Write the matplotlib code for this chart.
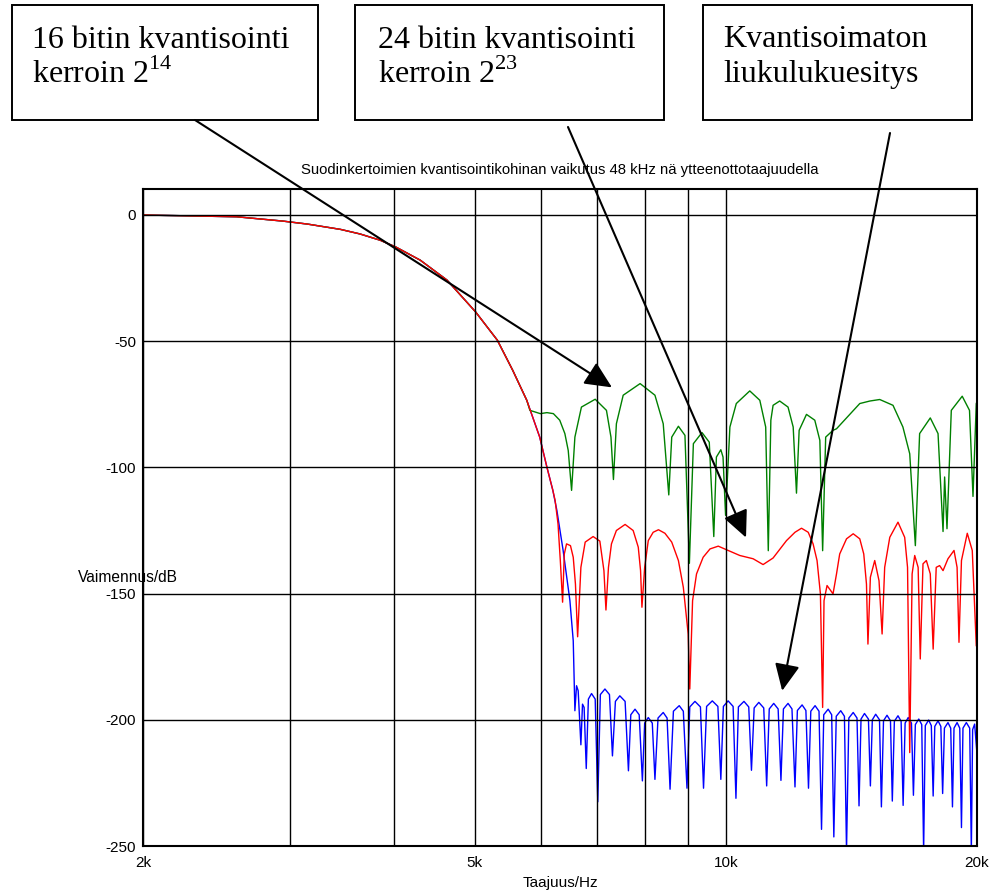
import matplotlib.pyplot as plt
import numpy as np
from matplotlib.patches import Rectangle
from matplotlib.ticker import NullFormatter

plt.rcParams["font.family"] = ["Liberation Sans", "DejaVu Sans"]
plt.rcParams["mathtext.fontset"] = "custom"
plt.rcParams["mathtext.rm"] = "Liberation Serif"

# Common passband of all three filters (kHz, dB)
passband_khz = [2.00, 2.23, 2.59, 2.79, 2.94, 3.15, 3.45, 3.64, 3.85, 4.02,
                4.30, 4.63, 5.01, 5.32, 5.55, 5.77]
passband_db = [0.0, -0.3, -0.7, -1.7, -2.4, -3.6, -5.7, -7.5, -10.0, -12.7,
               -17.9, -25.8, -38.4, -49.6, -61.5, -73.4]

# 16-bit coefficients, scale 2^14
green_khz = [5.82, 5.99, 6.10, 6.21, 6.32, 6.41, 6.47, 6.53,
             6.59, 6.71, 6.97, 7.19, 7.28, 7.33,
             7.39, 7.53, 7.89, 8.22, 8.41, 8.54,
             8.61, 8.77, 8.93, 9.04,
             9.14, 9.36, 9.55, 9.67,
             9.74, 9.86, 9.92, 9.99,
             10.11, 10.29, 10.68, 10.98, 11.16, 11.24,
             11.32, 11.39, 11.60, 11.87, 12.04, 12.15,
             12.24, 12.49, 12.78, 12.96, 13.06,
             13.17, 13.44, 13.57, 14.47, 14.88, 15.29, 15.86, 16.30, 16.61, 16.87,
             17.07, 17.58, 17.96, 18.21, 18.29, 18.41,
             18.63, 19.20, 19.59, 19.78, 19.96, 20.0]
green_db = [-77.4, -78.7, -78.3, -78.7, -81.3, -86.6, -93.3, -109.1,
            -88.0, -76.1, -73.0, -77.4, -88.0, -104.8,
            -82.7, -71.4, -66.8, -71.4, -82.7, -110.9,
            -88.0, -83.7, -87.3, -138.0,
            -90.6, -86.2, -90.0, -127.4,
            -95.9, -93.0, -95.9, -119.0,
            -84.0, -74.7, -69.7, -73.4, -84.0, -133.0,
            -81.3, -75.4, -73.7, -76.1, -84.0, -110.2,
            -85.3, -79.0, -81.3, -89.3, -133.0,
            -88.0, -85.3, -84.7, -74.7, -73.7, -73.1, -75.4, -84.0, -94.6, -131.0,
            -86.6, -80.4, -86.6, -125.4, -103.8, -124.3,
            -77.4, -71.8, -77.4, -111.5, -74.7, -74.0]

# 24-bit coefficients, scale 2^23
red_khz = [5.98, 6.10, 6.20, 6.24, 6.29, 6.33, 6.37, 6.40, 6.44, 6.51, 6.56, 6.60, 6.64,
           6.70, 6.78, 6.93, 7.06, 7.14, 7.18,
           7.23, 7.29, 7.39, 7.57, 7.74, 7.85, 7.90, 7.93,
           7.99, 8.07, 8.18, 8.30, 8.45, 8.61, 8.77, 8.89, 9.01, 9.05,
           9.12, 9.22, 9.39, 9.57, 9.79, 10.06, 10.39, 10.78, 11.08, 11.39,
           11.82, 12.10, 12.32, 12.55, 12.72, 12.86, 12.98, 13.06,
           13.11, 13.22, 13.34, 13.44, 13.57, 13.69, 13.95, 14.21, 14.47, 14.63, 14.74, 14.80,
           14.90, 15.08, 15.26, 15.39, 15.50, 15.72, 16.08, 16.38, 16.51, 16.61,
           16.72, 16.84, 17.00, 17.10, 17.23, 17.39, 17.58, 17.72,
           17.87, 18.04, 18.21, 18.46, 18.77, 18.93, 19.03, 19.16, 19.47, 19.74, 19.96]
red_db = [-88.0, -99.9, -109.0, -113.1, -122.4, -136.9, -153.4, -134.3, -130.3, -131.0, -135.6, -146.2, -167.1,
          -139.6, -129.6, -127.4, -129.2, -140.9, -156.5,
          -139.6, -130.3, -125.0, -122.6, -125.0, -131.6, -140.9, -155.4,
          -139.6, -129.0, -125.7, -124.7, -126.1, -129.6, -136.9, -147.5, -166.0, -187.8,
          -152.8, -142.2, -135.6, -132.3, -131.2, -132.9, -134.9, -136.2, -138.5, -135.9,
          -129.0, -125.7, -124.1, -125.7, -130.3, -136.9, -150.1, -195.1,
          -152.8, -146.8, -148.6, -150.1, -142.2, -134.3, -128.3, -126.3, -128.3, -134.3, -146.2, -170.0,
          -143.5, -136.9, -144.9, -166.0, -139.6, -127.7, -121.7, -127.7, -139.6, -213.0,
          -142.2, -134.9, -139.6, -175.9, -138.2, -136.9, -142.2, -172.0,
          -139.6, -138.9, -140.9, -136.2, -132.9, -139.6, -169.3, -136.9, -126.1, -132.9, -170.6]

# Unquantised floating point coefficients
blue_khz = [5.98, 6.10, 6.20, 6.27, 6.38, 6.50, 6.56, 6.59, 6.62, 6.65, 6.70, 6.73, 6.76, 6.80,
            6.84, 6.90, 6.97, 7.02,
            7.07, 7.16, 7.25, 7.31,
            7.37, 7.46, 7.57, 7.64,
            7.69, 7.78, 7.87, 7.94,
            7.99, 8.07, 8.16, 8.22,
            8.29, 8.41, 8.50, 8.57,
            8.65, 8.79, 8.89, 8.98,
            9.05, 9.18, 9.32, 9.40,
            9.48, 9.63, 9.78, 9.86,
            9.93, 10.06, 10.20, 10.28,
            10.35, 10.51, 10.65, 10.73,
            10.81, 10.95, 11.10, 11.19,
            11.27, 11.41, 11.55, 11.64,
            11.72, 11.87, 12.00, 12.10,
            12.18, 12.34, 12.47, 12.56,
            12.64, 12.79, 12.93, 13.02,
            13.10, 13.26, 13.39, 13.47,
            13.56, 13.73, 13.87, 13.95,
            14.04, 14.21, 14.36, 14.44,
            14.52, 14.66, 14.82, 14.90,
            14.98, 15.12, 15.28, 15.36,
            15.45, 15.60, 15.75, 15.83,
            15.92, 16.08, 16.22, 16.31,
            16.40, 16.54, 16.69, 16.78,
            16.87, 17.03, 17.17, 17.26,
            17.34, 17.50, 17.63, 17.72,
            17.80, 17.96, 18.10, 18.19,
            18.28, 18.46, 18.60, 18.69,
            18.77, 18.93, 19.07, 19.16,
            19.24, 19.42, 19.60, 19.69,
            19.76, 19.87, 20.00]
blue_db = [-88.0, -99.9, -109.0, -117.0, -133.0, -152.8, -168.7, -196.4, -186.5, -188.5, -209.9, -193.8, -195.1, -219.3,
           -191.8, -189.6, -191.8, -232.5,
           -190.0, -187.8, -190.0, -214.3,
           -192.7, -190.5, -192.7, -220.2,
           -198.0, -195.8, -198.0, -224.2,
           -201.3, -199.1, -201.3, -223.6,
           -199.3, -197.1, -199.3, -227.5,
           -196.6, -194.4, -196.6, -227.1,
           -194.9, -192.7, -194.9, -227.1,
           -194.7, -192.5, -194.7, -223.6,
           -194.7, -192.5, -194.7, -231.1,
           -194.9, -192.7, -194.9, -220.0,
           -195.3, -193.1, -195.3, -226.2,
           -195.7, -193.5, -195.7, -224.0,
           -195.7, -193.5, -195.7, -226.6,
           -196.3, -194.1, -196.3, -227.1,
           -196.6, -194.4, -196.6, -243.4,
           -198.0, -195.8, -198.0, -246.4,
           -198.6, -196.4, -198.6, -252.0,
           -199.3, -197.1, -199.3, -234.1,
           -199.7, -197.5, -199.7, -226.2,
           -200.0, -197.8, -200.0, -234.5,
           -200.4, -198.2, -200.4, -232.2,
           -200.6, -198.4, -200.6, -233.9,
           -201.3, -199.1, -201.3, -229.9,
           -201.9, -199.7, -201.9, -252.0,
           -202.3, -200.1, -202.3, -230.2,
           -202.6, -200.4, -202.6, -229.2,
           -203.3, -201.1, -203.3, -234.5,
           -203.3, -201.1, -203.3, -242.7,
           -203.3, -201.1, -203.3, -252.0,
           -203.9, -201.7, -213.6]

xtick_hz = [2000, 5000, 10000, 20000]
xtick_labels = ["2k", "5k", "10k", "20k"]
xgrid_hz = [3000, 4000, 6000, 7000, 8000, 9000]
ytick_db = [0, -50, -100, -150, -200, -250]
ytick_labels = ["0", "-50", "-100", "-150", "-200", "-250"]

title = "Suodinkertoimien kvantisointikohinan vaikutus 48 kHz nä ytteenottotaajuudella"


def curve(khz, db):
    f = np.concatenate([passband_khz, khz]) * 1000.0
    return f, np.concatenate([passband_db, db])


W, H = 996, 892


def fx(px):
    return px / W


def fy(py):
    return 1 - py / H


fig = plt.figure(figsize=(W / 100, H / 100), dpi=100)
ax = fig.add_axes([fx(143), fy(846), fx(977) - fx(143), fy(189) - fy(846)])

ax.plot(*curve(blue_khz, blue_db), color="#0000ff", lw=1.0)
ax.plot(*curve(green_khz, green_db), color="#008000", lw=1.0)
ax.plot(*curve(red_khz, red_db), color="#ff0000", lw=1.0)

ax.set_xscale("log")
ax.set_xlim(2000, 20000)
ax.set_ylim(-250, 10.3)
ax.set_xticks(xtick_hz, labels=xtick_labels)
ax.set_xticks(xgrid_hz, minor=True)
ax.xaxis.set_minor_formatter(NullFormatter())
ax.set_yticks(ytick_db, labels=ytick_labels)
ax.tick_params(which="both", length=0, labelsize=11)
ax.tick_params(axis="x", pad=7)
ax.tick_params(axis="y", pad=5)
ax.grid(True, which="both", color="black", lw=1.0)
ax.set_axisbelow(False)
for s in ax.spines.values():
    s.set_linewidth(1.5)

fig.text(fx(560), fy(170), title, ha="center", va="center", fontsize=10.7)
fig.text(fx(560), fy(883), "Taajuus/Hz", ha="center", va="center", fontsize=11)
fig.text(fx(128), fy(577), "Vaimennus/dB", ha="center", va="center", fontsize=11.2)

# Label boxes above the plot
boxes = [(12, 318), (355, 664), (703, 972)]
for x0, x1 in boxes:
    fig.add_artist(Rectangle((fx(x0), fy(120)), fx(x1) - fx(x0), fy(5) - fy(120),
                             transform=fig.transFigure, fill=False, ec="black", lw=1.4))

serif = dict(family="Liberation Serif", size=23, va="baseline", ha="left")
fig.text(fx(32), fy(48), "16 bitin kvantisointi", **serif)
fig.text(fx(32), fy(83), r"kerroin $2^{14}$", **serif)
fig.text(fx(378), fy(48), "24 bitin kvantisointi", **serif)
fig.text(fx(378), fy(83), r"kerroin $2^{23}$", **serif)
fig.text(fx(723), fy(47), "Kvantisoimaton", **serif)
fig.text(fx(723), fy(82), "liukulukuesitys", **serif)

arrows = [
    ((7300, -68.3), (195, 120)),
    ((10570, -127.8), (568, 127)),
    ((11680, -188.5), (890, 133)),
]
for tip, (sx, sy) in arrows:
    ax.annotate("", xy=tip, xycoords="data",
                xytext=(fx(sx), fy(sy)), textcoords="figure fraction",
                arrowprops=dict(arrowstyle="-|>,head_length=1.5,head_width=0.7",
                                mutation_scale=11, color="black", lw=1.5,
                                shrinkA=0, shrinkB=0),
                annotation_clip=False, zorder=10)

fig.savefig("out.png", dpi=100)
